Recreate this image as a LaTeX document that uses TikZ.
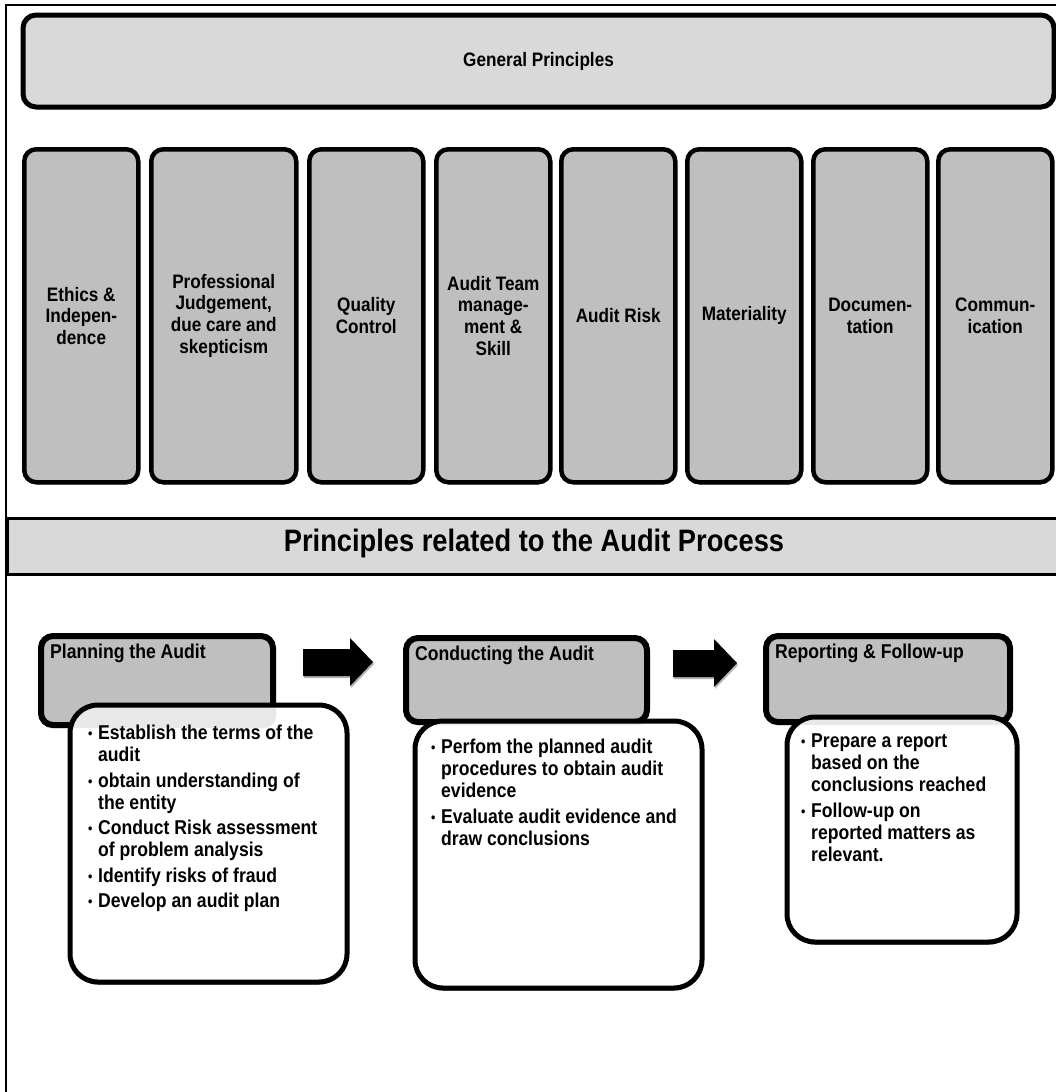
\documentclass[tikz,border=0pt]{standalone}
\usepackage{fontspec}
\newfontfamily\bfnt{Liberation Sans Bold}[FakeStretch=0.88]
\usetikzlibrary{shadows,calc}
\definecolor{lightg}{HTML}{D9D9D9}
\definecolor{midg}{HTML}{BFBFBF}
\newcommand\nl{\hfil\break}
\newcommand\bitem[1]{\par\hangindent=10pt\hangafter=1\noindent\makebox[10pt][l]{\fontsize{14}{14}\selectfont\raisebox{1pt}{•}}#1}
\tikzset{
  frameline/.style={line width=2pt, black},
  genbox/.style={draw=black, line width=5pt, rounded corners=13pt, fill=lightg, anchor=north west, inner sep=0pt,
    font=\bfnt\fontsize{19.5}{22}\selectfont,
    drop shadow={shadow xshift=0pt, shadow yshift=-2pt, opacity=0.45, fill=black}},
  colbox/.style={draw=black, line width=4.5pt, rounded corners=12pt, fill=midg, anchor=north west, inner sep=0pt,
    align=center, minimum height=333pt, font=\bfnt\fontsize{19.5}{21.7}\selectfont,
    drop shadow={shadow xshift=0pt, shadow yshift=-2pt, opacity=0.45, fill=black}},
  bandbox/.style={draw=black, line width=2.5pt, fill=lightg, anchor=north west, inner sep=0pt},
  bandtext/.style={inner sep=0pt, font=\bfnt\fontsize{31}{34}\selectfont},
  hdrbox/.style={draw=black, line width=6pt, rounded corners=12pt, fill=midg, anchor=north west, inner sep=0pt,
    drop shadow={shadow xshift=-1pt, shadow yshift=-3pt, opacity=0.3, fill=black}},
  hdrtext/.style={anchor=west, inner sep=0pt, font=\bfnt\fontsize{20}{22}\selectfont},
  bodybox/.style={draw=black, line width=5pt, rounded corners=28pt, fill=white, anchor=north west, inner sep=0pt,
    drop shadow={shadow xshift=0pt, shadow yshift=-2.5pt, opacity=0.6, fill=black}},
  bodytext/.style={anchor=north west, inner sep=0pt, font=\bfnt\fontsize{20}{22}\selectfont},
  blockarrow/.style={fill=black, drop shadow={shadow xshift=1pt, shadow yshift=-2pt, opacity=0.3, fill=black}},
}
\begin{document}
\begin{tikzpicture}[x=1pt,y=-1pt]
\useasboundingbox (0,0) rectangle (1055,1092);
\fill[white] (0,0) rectangle (1055,1092);

% frame of the table
\draw[frameline] (6,1095) -- (6,5) -- (1060,5);

% General principles
\node[genbox, minimum width=1031pt, minimum height=92pt] (gen) at (20.5,12.5) {General Principles};

% columns
\node[colbox, minimum width=114pt] (c1) at (22,147) {Ethics \&\\Indepen-\\dence};
\node[colbox, minimum width=145pt] (c2) at (149,147) {Professional\\Judgement,\\due care and\\skepticism};
\node[colbox, minimum width=114pt] (c3) at (307,147) {Quality\\Control};
\node[colbox, minimum width=114pt] (c4) at (434,147) {Audit Team\\manage-\\ment \&\\Skill};
\node[colbox, minimum width=114pt] (c5) at (559,147) {Audit Risk};
\node[colbox, minimum width=114pt] (c6) at (685,147) {Materiality};
\node[colbox, minimum width=114pt] (c7) at (811,147) {Documen-\\tation};
\node[colbox, minimum width=114pt] (c8) at (936,147) {Commun-\\ication};

% band
\node[bandbox, minimum width=1065pt, minimum height=56pt] (band) at (6,517) {};
\node[bandtext] (bandtxt) at (534,543) {Principles related to the Audit Process};

% header boxes
\node[hdrbox, minimum width=232pt, minimum height=89pt] (H1) at (38,633) {};
\node[hdrbox, minimum width=241pt, minimum height=84pt] (H2) at (403,635) {};
\node[hdrbox, minimum width=244pt, minimum height=86pt] (H3) at (763,633) {};
\node[hdrtext] (t1) at ($(H1.north west)+(12,20)$) {Planning the Audit};
\node[hdrtext] (t2) at ($(H2.north west)+(12,20)$) {Conducting the Audit};
\node[hdrtext] (t3) at ($(H3.north west)+(12,20)$) {Reporting \& Follow-up};

% block arrows
\fill[blockarrow] (303,649) -- (350,649) -- (350,638) -- (373,662) -- (350,686) -- (350,676) -- (303,676) -- cycle;
\fill[blockarrow] (673,650) -- (714,650) -- (714,639) -- (737,663) -- (714,687) -- (714,677) -- (673,677) -- cycle;

% body boxes
\node[bodybox, minimum width=277pt, minimum height=277pt] (B1) at (67.5,702.5) {};
\node[bodybox, minimum width=287pt, minimum height=267pt] (B2) at (412.5,718.5) {};
\node[bodybox, minimum width=230pt, minimum height=225pt] (B3) at (784.5,714.5) {};

% faint overlap of header behind body
\begin{scope}
\clip[rounded corners=26pt] ($(B1.north west)+(2.5,2.5)$) rectangle ($(B1.south east)+(-2.5,-2.5)$);
\fill[black, opacity=0.09, rounded corners=12pt] (H1.north west) rectangle (H1.south east);
\end{scope}
\begin{scope}
\clip[rounded corners=26pt] ($(B2.north west)+(2.5,2.5)$) rectangle ($(B2.south east)+(-2.5,-2.5)$);
\fill[black, opacity=0.09, rounded corners=12pt] (H2.north west) rectangle (H2.south east);
\end{scope}
\begin{scope}
\clip[rounded corners=26pt] ($(B3.north west)+(2.5,2.5)$) rectangle ($(B3.south east)+(-2.5,-2.5)$);
\fill[black, opacity=0.09, rounded corners=12pt] (H3.north west) rectangle (H3.south east);
\end{scope}

% body texts
\node[bodytext] (L1) at (88,725) {\parbox[t]{250pt}{\raggedright\parskip=3.5pt
\bitem{Establish the terms of the\nl audit}
\bitem{obtain understanding of\nl the entity}
\bitem{Conduct Risk assessment\nl of problem analysis}
\bitem{Identify risks of fraud}
\bitem{Develop an audit plan}}};
\node[bodytext] (L2) at (431,739) {\parbox[t]{265pt}{\raggedright\parskip=3.5pt
\bitem{Perfom the planned audit\nl procedures to obtain audit\nl evidence}
\bitem{Evaluate audit evidence and\nl draw conclusions}}};
\node[bodytext] (L3) at (801,734) {\parbox[t]{210pt}{\raggedright\parskip=3.5pt
\bitem{Prepare a report\nl based on the\nl conclusions reached}
\bitem{Follow-up on\nl reported matters as\nl relevant.}}};
\end{tikzpicture}
\end{document}
